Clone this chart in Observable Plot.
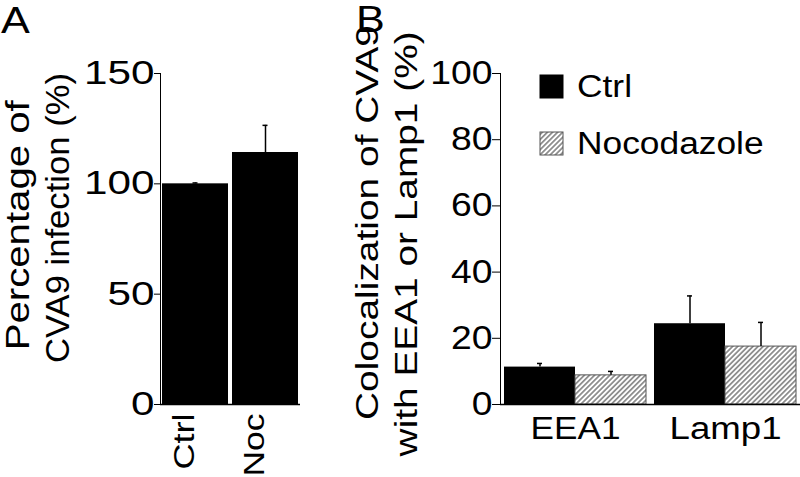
<!DOCTYPE html>
<html><head><meta charset="utf-8">
<script src="https://cdn.jsdelivr.net/npm/d3@7"></script>
<script src="https://cdn.jsdelivr.net/npm/@observablehq/plot@0.6"></script>
<style>
body{margin:0;background:#fff;}
#wrap{position:relative;width:800px;height:477px;}
#wrap text{font-family:"Liberation Sans",Arial,sans-serif !important;}
#pa,#pb,#over{position:absolute;top:0;}
#pa{left:0;} #pb{left:340px;} #over{left:0;pointer-events:none;}
</style></head><body>
<svg width="0" height="0" style="position:absolute"><defs>
<pattern id="hatch" patternUnits="userSpaceOnUse" width="3.6" height="3.6" patternTransform="rotate(45)">
<rect width="3.6" height="3.6" fill="#fff"/><line x1="1.8" y1="0" x2="1.8" y2="3.6" stroke="#2a2a2a" stroke-width="0.95"/>
</pattern></defs></svg>
<div id="wrap"><div id="pa"></div><div id="pb"></div><svg id="over" width="800" height="477"></svg></div>
<script>
// ---- Panel A data ----
const catsA = ["Ctrl", "Noc"];
const valuesA = [100, 114.2];
const upperA = [100.4, 126.5];
const ticksA = [0, 50, 100, 150];
const labelALines = ["Percentage of", "CVA9 infection (%)"];

// ---- Panel B data ----
const groupsB = ["EEA1", "Lamp1"];
const treatB = ["Ctrl", "Nocodazole"];
const ctrlValues = [11.3, 24.4];
const ctrlUpper = [12.4, 32.8];
const nocValues = [8.8, 17.5];
const nocUpper = [10.0, 24.8];
const ticksB = [0, 20, 40, 60, 80, 100];
const labelBLines = ["Colocalization of CVA9", "with EEA1 or Lamp1 (%)"];

const panelLetters = ["A", "B"];

const FONT = "'Liberation Sans', Arial, sans-serif";

// widen glyphs along the text direction (the reference type is broad)
function stretchText(root, specFn) {
  root.querySelectorAll("text").forEach(t => {
    if (t.querySelector("tspan")) return;
    const sp = specFn(t.textContent.trim());
    if (!sp) return;
    const L = t.getComputedTextLength();
    const target = sp.length != null ? sp.length : L * sp.factor;
    t.setAttribute("textLength", target.toFixed(1));
    t.setAttribute("lengthAdjust", "spacingAndGlyphs");
  });
}
// vertically centre rotated axis-title lines on a given page y
function centreY(root, centres) {
  const top = root.getBoundingClientRect().top;
  root.querySelectorAll("text").forEach(t => {
    const c = centres[t.textContent.trim()];
    if (c == null) return;
    const r = t.getBoundingClientRect();
    const delta = c - (r.top + r.height / 2 - top);
    t.setAttribute("transform", `translate(0,${delta.toFixed(1)}) ` + (t.getAttribute("transform") || ""));
  });
}
const isNum = s => /^\d+$/.test(s);

// Panel A
const rowsA = catsA.map((c, i) => ({cat: c, value: valuesA[i], upper: upperA[i]}));
const plotA = Plot.plot({
  width: 340, height: 477,
  marginLeft: 160, marginRight: 40, marginTop: 73, marginBottom: 73,
  style: `font-family: ${FONT}; font-size: 33px; color: #000; background: transparent; overflow: visible;`,
  x: {domain: catsA, paddingInner: 0.06, paddingOuter: 0.02, axis: null},
  y: {domain: [0, 150], ticks: ticksA, tickSize: 6, tickPadding: 0, line: true, label: null},
  marks: [
    Plot.barY(rowsA, {x: "cat", y: "value", fill: "#000"}),
    Plot.ruleX(rowsA, {x: "cat", y1: "value", y2: "upper", stroke: "#000", strokeWidth: 1.5}),
    Plot.tickY(rowsA, {x: "cat", y: "upper", insetLeft: 30.5, insetRight: 30.5, stroke: "#000", strokeWidth: 1.5}),
    Plot.ruleY([0], {stroke: "#000", strokeWidth: 1.5}),
    Plot.text(catsA, {x: d => d, text: d => d, frameAnchor: "bottom", rotate: -90, textAnchor: "end", dy: 9, dx: -2, fontSize: 29}),
    Plot.text([labelALines[0]], {text: d => d, frameAnchor: "left", rotate: -90, textAnchor: "middle", dx: -142.4, fontSize: 34}),
    Plot.text([labelALines[1]], {text: d => d, frameAnchor: "left", rotate: -90, textAnchor: "middle", dx: -102.4, fontSize: 34})
  ]
});
document.getElementById("pa").append(plotA);
const specA = {"Ctrl": {length: 56}, "Noc": {length: 63}};
specA[labelALines[0]] = {length: 250};
specA[labelALines[1]] = {length: 290};
stretchText(plotA, s => isNum(s) ? {factor: 1.28} : specA[s]);
const centresA = {}; centresA[labelALines[0]] = 225; centresA[labelALines[1]] = 218;
centreY(plotA, centresA);

// Panel B
const rowsB = [];
groupsB.forEach((g, i) => {
  rowsB.push({group: g, treat: treatB[0], value: ctrlValues[i], upper: ctrlUpper[i]});
  rowsB.push({group: g, treat: treatB[1], value: nocValues[i], upper: nocUpper[i]});
});
const plotB = Plot.plot({
  width: 460, height: 477,
  marginLeft: 159, marginRight: 0, marginTop: 73, marginBottom: 73,
  style: `font-family: ${FONT}; font-size: 33px; color: #000; background: transparent; overflow: visible;`,
  fx: {domain: groupsB, padding: 0, axis: "bottom", tickSize: 0, tickPadding: 12, label: null},
  x: {domain: treatB, paddingInner: 0, paddingOuter: 0.05, axis: null},
  y: {domain: [0, 100], ticks: ticksB, tickSize: 8, tickPadding: 0, line: true, label: null},
  marks: [
    Plot.barY(rowsB.filter(d => d.treat === treatB[0]), {fx: "group", x: "treat", y: "value", fill: "#000"}),
    Plot.barY(rowsB.filter(d => d.treat === treatB[1]), {fx: "group", x: "treat", y: "value", fill: "url(#hatch)", stroke: "#555", strokeWidth: 1}),
    Plot.ruleX(rowsB, {fx: "group", x: "treat", y1: "value", y2: "upper", stroke: "#000", strokeWidth: 1.5}),
    Plot.tickY(rowsB, {fx: "group", x: "treat", y: "upper", insetLeft: 33, insetRight: 33, stroke: "#000", strokeWidth: 1.5}),
    Plot.ruleY([0], {stroke: "#000", strokeWidth: 1.5}),
    Plot.text([labelBLines[0]], {text: d => d, frameAnchor: "left", rotate: -90, textAnchor: "middle", dx: -133.2, fontSize: 32, facetAnchor: "left"}),
    Plot.text([labelBLines[1]], {text: d => d, frameAnchor: "left", rotate: -90, textAnchor: "middle", dx: -94.2, fontSize: 32, facetAnchor: "left"})
  ]
});
document.getElementById("pb").append(plotB);
// fx tick labels a little smaller than the y ticks
plotB.querySelectorAll("text").forEach(t => { if (groupsB.includes(t.textContent.trim())) t.setAttribute("font-size", 31); });
const specB = {"EEA1": {length: 90}, "Lamp1": {length: 112}};
specB[labelBLines[0]] = {length: 395};
specB[labelBLines[1]] = {length: 425};
stretchText(plotB, s => isNum(s) ? {factor: 1.13} : specB[s]);
const centresB = {}; centresB[labelBLines[0]] = 222.5; centresB[labelBLines[1]] = 244.5;
centreY(plotB, centresB);

// Overlay: panel letters and legend
const over = d3.select("#over").style("font-family", FONT);
over.selectAll("text.letter").data(panelLetters).join("text")
  .attr("class", "letter")
  .attr("x", (d, i) => i === 0 ? 1 : 356)
  .attr("y", (d, i) => i === 0 ? 33 : 32)
  .attr("font-size", 36).attr("fill", "#000").text(d => d);
const leg = over.selectAll("g.leg").data(treatB).join("g").attr("class", "leg")
  .attr("transform", (d, i) => `translate(540,${i === 0 ? 75 : 132})`);
leg.append("rect").attr("width", 23).attr("height", 23)
  .attr("fill", (d, i) => i === 0 ? "#000" : "url(#hatch)")
  .attr("stroke", (d, i) => i === 0 ? "#000" : "#555");
leg.append("text").attr("x", 37).attr("y", 22).attr("font-size", 31).attr("fill", "#000").text(d => d);
stretchText(over.node(), s => panelLetters.includes(s) ? {factor: 1.2} : (treatB.includes(s) ? {factor: 1.14} : null));
</script>
</body></html>
